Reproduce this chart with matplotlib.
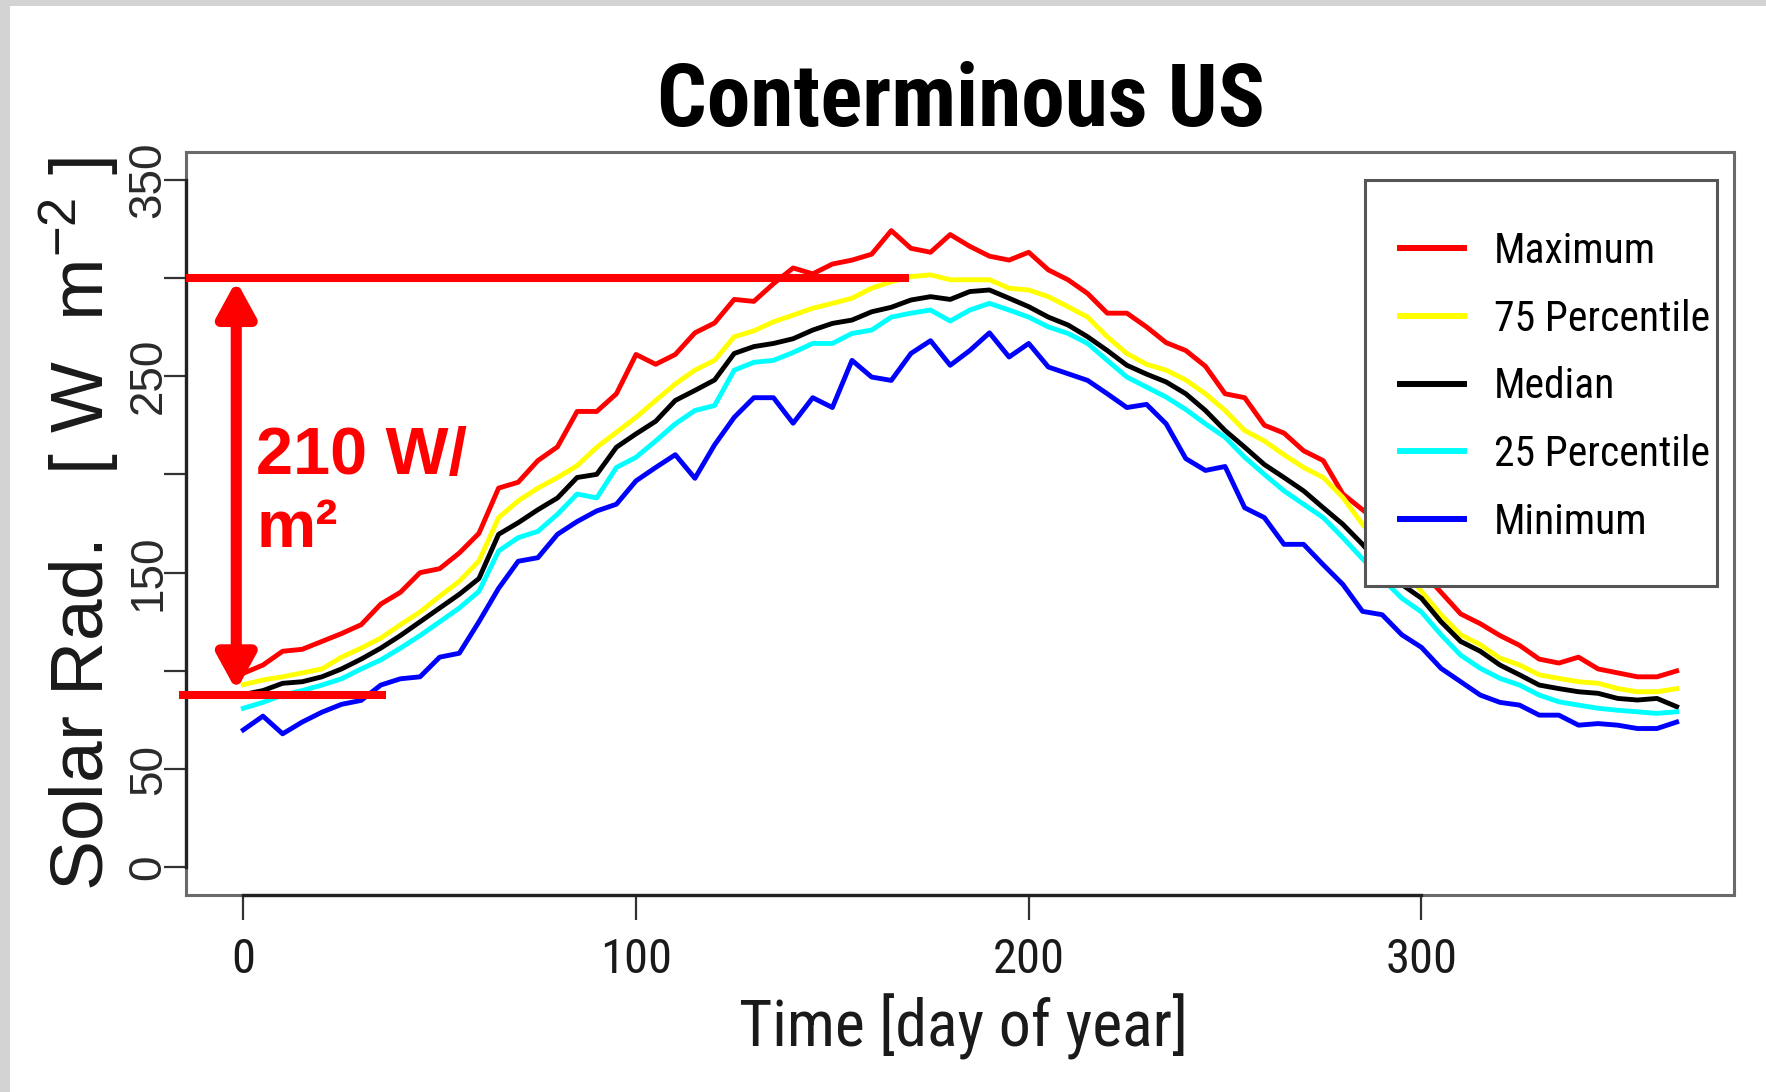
"""Daily solar radiation percentiles over the conterminous US."""

import matplotlib

matplotlib.use("Agg")
import matplotlib.pyplot as plt
from matplotlib import font_manager
from matplotlib.font_manager import FontProperties
from matplotlib.patches import Rectangle

# ---- data (every 5th day) ----
days = list(range(0, 366, 5))

maximum = [
    98.8, 103, 110, 111, 115, 119, 123.5, 134, 140, 150, 152, 160, 170,
    193, 196, 207, 214, 232, 232, 241, 261, 256, 261, 272, 277,
    289, 288, 297, 305, 302, 307, 309, 312, 324, 315, 313, 322,
    316, 311, 309, 313, 304, 299, 292, 282, 282, 275, 267, 263,
    255, 241, 239, 225, 221, 212, 207, 190, 182, 174, 162, 151,
    140, 129, 124, 118, 113, 106, 104, 107, 101, 99, 97, 97, 100,
]
pct75 = [
    93, 95.4, 97, 99, 101, 107, 111.6, 116.7, 123.5, 130, 138, 145.6, 156,
    178, 186.5, 193, 198.4, 204.4, 213.8, 221.4, 229, 237.6, 246, 253, 258,
    270, 273, 277.6, 281, 284.5, 287, 289.6, 294.7, 298, 300.6, 301.5, 299,
    299, 299, 294.7, 293.8, 290.4, 285.3, 280, 270, 261.5, 256, 253, 248,
    241, 232.5, 222.3, 217, 210, 203.5, 198.4, 188.2, 174.6, 163, 152, 140.5,
    128.6, 118.4, 113.3, 106.5, 103, 98, 96.2, 94.5, 93.7, 91, 89.4, 89.4, 91,
]
median = [
    88, 90, 93.7, 94.5, 97, 101, 106, 111.6, 118, 125, 132, 139, 147,
    169.5, 175.4, 182, 188, 198.4, 200, 213.8, 220.6, 227, 237.6, 242.7, 248,
    261.5, 265, 266.6, 269, 273.4, 276.8, 278.5, 282.7, 285, 288.7, 290.4, 289,
    293, 293.8, 289.6, 285.3, 280, 276, 270, 263, 255.5, 251, 247, 241,
    232.5, 222.3, 213.8, 205, 198.4, 191.6, 183, 174.6, 164.4, 153, 144, 137,
    125, 115, 110, 103, 98, 92.8, 91, 89.4, 88.6, 86, 85.2, 86, 81.8,
]
pct25 = [
    81, 84, 87.7, 90, 92.8, 96, 101, 105.6, 111.6, 118, 125, 132, 140.5,
    161, 167.8, 171, 179.7, 190, 188, 203.5, 208.7, 217, 225.7, 232.5, 235,
    253, 257, 258, 262, 266.6, 266.6, 271.7, 273.4, 280, 282, 283.6, 278,
    283.6, 287, 283.6, 280, 275, 271.7, 266.6, 258, 249.5, 244.4, 239.3, 233,
    225.7, 218.9, 208.7, 200, 191.6, 184.8, 178, 167.8, 157, 147, 137, 130,
    118.4, 108, 101.3, 96.2, 92.8, 87.7, 84.3, 82.6, 81, 80, 79.2, 78.4, 79.2,
]
minimum = [
    70, 77, 68, 74, 79, 83, 85, 92.8, 96, 97, 107, 109, 125,
    142, 155.8, 157.6, 169.5, 176, 181.4, 184.8, 196.7, 203.5, 210, 198, 215,
    229, 239, 239, 226, 239, 234, 258, 249.5, 247.8, 261.5, 268, 255.5,
    263, 272, 259.7, 266.6, 254.6, 251.2, 247.8, 241, 234, 235.6, 225.7, 208,
    202, 204, 183, 178, 164.4, 164.4, 154, 144, 130.3, 128.6, 118.4, 112,
    101.3, 94.5, 87.7, 84, 82.6, 77.5, 77.5, 72.4, 73.2, 72.4, 70.7, 70.7, 74,
]

series = [maximum, pct75, median, pct25, minimum]
series_labels = ["Maximum", "75 Percentile", "Median", "25 Percentile", "Minimum"]
series_colors = ["#ff0000", "#ffff00", "#000000", "#00ffff", "#0000ff"]

x_ticks = [0, 100, 200, 300]
y_ticks = [0, 50, 100, 150, 200, 250, 300, 350]
y_tick_labels = ["0", "50", "", "150", "", "250", "", "350"]

# red overlay: seasonal swing
swing_high = 300
swing_low = 88
swing_text = ["210 W/", "m\u00b2"]


def pick_narrow():
    """Return kwargs for the narrowest sans face that is installed."""
    entries = font_manager.fontManager.ttflist
    names = {f.name for f in entries}
    for name in ("Liberation Sans Narrow", "Arial Narrow", "Roboto Condensed",
                 "Open Sans Condensed", "Nimbus Sans Narrow"):
        if name in names:
            return {"family": name}
    if any(f.name == "DejaVu Sans" and "condensed" in str(f.stretch) for f in entries):
        return {"family": "DejaVu Sans", "stretch": "condensed"}
    return {"family": "Liberation Sans"}


plt.rcParams["font.family"] = ["Liberation Sans", "DejaVu Sans"]
plt.rcParams["mathtext.fontset"] = "custom"
plt.rcParams["mathtext.rm"] = "Liberation Sans"
plt.rcParams["mathtext.it"] = "Liberation Sans:italic"
plt.rcParams["mathtext.bf"] = "Liberation Sans:bold"

narrow = pick_narrow()
W, H = 1766, 1092
fig = plt.figure(figsize=(W / 100, H / 100), dpi=100)
fig.patch.set_facecolor("white")

# light grey page edge (top and left)
fig.add_artist(Rectangle((0, 1 - 6 / H), 1, 6 / H, transform=fig.transFigure,
                         facecolor="#d3d3d3", edgecolor="none", zorder=0))
fig.add_artist(Rectangle((0, 0), 10 / W, 1, transform=fig.transFigure,
                         facecolor="#d3d3d3", edgecolor="none", zorder=0))

ax = fig.add_axes([186 / W, 1 - 895 / H, 1548 / W, 743 / H])
ax.set_xlim(-14.6, 379.6)
ax.set_ylim(-14, 364)

for vals, label, color in zip(series, series_labels, series_colors):
    ax.plot(days, vals, color=color, linewidth=3.5, label=label, zorder=3)

for side in ("top", "right", "left", "bottom"):
    ax.spines[side].set_color("#6a6a6a")
    ax.spines[side].set_linewidth(2.2)
# R-style axis lines spanning only the tick range
ax.plot([x_ticks[0], x_ticks[-1]], [0, 0], transform=ax.get_xaxis_transform(),
        color="#222222", linewidth=2.4, clip_on=False, zorder=6)
ax.plot([0, 0], [y_ticks[0], y_ticks[-1]], transform=ax.get_yaxis_transform(),
        color="#222222", linewidth=2.4, clip_on=False, zorder=6)

ax.set_xticks(x_ticks)
ax.set_xticklabels([str(t) for t in x_ticks],
                   fontproperties=FontProperties(size=35, **narrow))
ax.set_yticks(y_ticks)
ax.set_yticklabels(y_tick_labels, rotation=90, va="center",
                   fontproperties=FontProperties(family="Liberation Sans", size=33))
ax.tick_params(axis="x", length=18, width=1.6, color="#333333", pad=12,
               labelcolor="#1a1a1a")
ax.tick_params(axis="y", length=16, width=1.6, color="#333333", pad=-5,
               labelcolor="#2a2a2a")

# legend: frame drawn by hand so its box matches the reference exactly
ax.add_patch(Rectangle((0.7616, 0.4159), 0.2274, 0.5464, transform=ax.transAxes,
                       facecolor="white", edgecolor="#555555", linewidth=2.2,
                       zorder=7))
leg = ax.legend(loc="upper left", bbox_to_anchor=(0.7513, 0.9623),
                frameon=False, borderaxespad=0, borderpad=1.22,
                handlelength=1.55, handletextpad=0.7, labelspacing=0.64,
                prop=FontProperties(size=30, **narrow))
leg.set_zorder(8)
for line in leg.get_lines():
    line.set_linewidth(4.3)

# red annotation of the seasonal swing
ax.plot([-14.6, 169.4], [swing_high, swing_high], color="#ff0000", linewidth=5.8,
        solid_capstyle="butt", clip_on=False, zorder=9)
ax.plot([-16.5, 36.3], [swing_low, swing_low], color="#ff0000", linewidth=5.8,
        solid_capstyle="butt", clip_on=False, zorder=9)
ax.annotate("", xy=(-1.8, swing_high - 1.5), xytext=(-1.8, swing_low + 2),
            arrowprops=dict(arrowstyle="<|-|>,head_length=21,head_width=11.5",
                            color="#ff0000", lw=8, shrinkA=0, shrinkB=0,
                            mutation_scale=1),
            zorder=9)
ax.text(3.3, 200.3, swing_text[0], color="#ff0000", fontsize=48,
        fontweight="bold", va="baseline", ha="left", zorder=9)
ax.text(3.3, 163, swing_text[1], color="#ff0000", fontsize=48,
        fontweight="bold", va="baseline", ha="left", zorder=9)

fig.text(961 / W, 1 - 126 / H, "Conterminous US", ha="center", va="baseline",
         fontproperties=FontProperties(size=63, weight="bold", **narrow))
fig.text(963 / W, 1 - 1047 / H, "Time [day of year]", ha="center", va="baseline",
         color="#1a1a1a", fontproperties=FontProperties(size=46, **narrow))
fig.text(104 / W, 1 - 524 / H, r"Solar Rad.   [ W  m$^{-2}$ ]", rotation=90,
         rotation_mode="anchor", ha="center", va="baseline", color="#1a1a1a",
         fontsize=54)

fig.savefig("out.png", dpi=100)
plt.close(fig)
